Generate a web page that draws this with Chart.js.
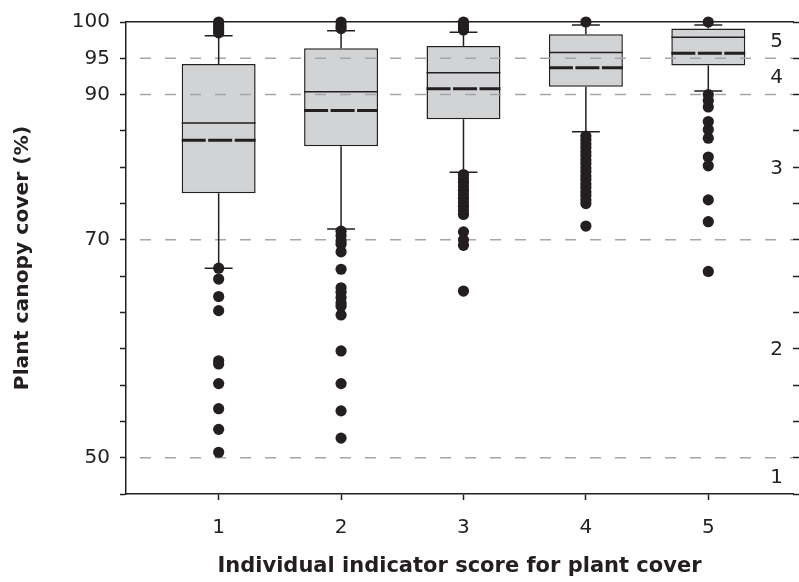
<!DOCTYPE html>
<html>
<head>
<meta charset="utf-8">
<script src="https://cdn.jsdelivr.net/npm/chart.js@4/dist/chart.umd.min.js"></script>
<style>
  html, body { margin: 0; padding: 0; background: #ffffff; }
  #wrap { width: 799px; height: 582px; }
</style>
</head>
<body>
<div id="wrap"><canvas id="chart" width="799" height="582"></canvas></div>
<script>
// Individual indicator score for plant cover (x categories)
const scores = ['1', '2', '3', '4', '5'];

// Box statistics of plant canopy cover (%) for each score
const whiskerLow  = [67.4, 71.5, 79.3, 84.9, 90.5];
const quartile1   = [76.4, 82.9, 86.6, 91.1, 94.0];
const medianCover = [86.1, 90.4, 93.0, 95.8, 97.9];
const meanCover   = [83.7, 87.8, 90.8, 93.7, 95.7];
const quartile3   = [94.2, 96.4, 96.7, 98.3, 99.1];
const whiskerHigh = [98.1, 98.8, 98.6, 99.6, 99.6];

// Outlying plots for each score
const outliers1 = [100, 99.6, 99.2, 98.8, 98.5, 67.4, 66.4, 64.8, 63.5, 58.9, 58.6, 56.8, 54.5, 52.6, 50.5];
const outliers2 = [100, 99.5, 99.1, 71.2, 70.6, 69.9, 69.6, 68.9, 67.3, 65.6, 65.2, 64.7, 64.2, 63.9, 63.1, 59.8, 56.8, 54.3, 51.8];
const outliers3 = [100, 99.6, 99.2, 98.9, 79.0, 78.4, 77.9, 77.3, 76.8, 76.2, 75.7, 75.1, 74.6, 74.0, 73.5, 71.1, 70.0, 69.5, 65.3];
const outliers4 = [100, 84.3, 83.8, 83.2, 82.7, 82.1, 81.6, 81.0, 80.5, 79.9, 79.4, 78.8, 78.3, 77.7, 77.2, 76.6, 76.1, 75.5, 75.0, 71.9];
const outliers5 = [100, 90.0, 89.2, 88.3, 86.3, 85.2, 84.0, 81.4, 80.2, 75.5, 72.5, 67.1];

// Cover limits between score classes, and labelled cover values on the left axis
const classLimits = [50, 70, 90, 95];
const coverTickLabels = [50, 70, 90, 95, 100];

// ---- y axis spacing: one step = 5 % above 70 %, 20/6 % below 70 % ----
const STEP_HIGH = 5;
const STEP_LOW = 20 / 6;
const BREAK_COVER = 70;
const BREAK_STEP = (100 - BREAK_COVER) / STEP_HIGH;   // 6
const AXIS_STEPS = 13;                                 // bottom of the axis
function toAxis(v) {
  return v >= BREAK_COVER ? (100 - v) / STEP_HIGH : BREAK_STEP + (BREAK_COVER - v) / STEP_LOW;
}
function fromAxis(t) {
  return t <= BREAK_STEP ? 100 - t * STEP_HIGH : BREAK_COVER - (t - BREAK_STEP) * STEP_LOW;
}
const axisSteps = Array.from({ length: AXIS_STEPS + 1 }, (_, i) => i);

// ---- x axis range and box geometry (in score units) ----
const X_MIN = 0.243;
const X_MAX = 5.692;
const BOX_HALF = 0.302;
const CAP_HALF = 0.114;

const INK = '#231f20';
const FONT = 'DejaVu Sans';
Chart.defaults.font.family = FONT;
Chart.defaults.color = INK;

const gap = x => ({ x: x, y: null });

// boxes: floating bars from Q1 to Q3
const boxData = scores.map((s, i) => ({ x: i + 1, y: [toAxis(quartile1[i]), toAxis(quartile3[i])] }));

// whiskers and caps
const whiskerData = [];
scores.forEach((s, i) => {
  const x = i + 1;
  const hi = toAxis(whiskerHigh[i]), lo = toAxis(whiskerLow[i]);
  whiskerData.push({ x, y: toAxis(quartile3[i]) }, { x, y: hi }, gap(x));
  whiskerData.push({ x: x - CAP_HALF, y: hi }, { x: x + CAP_HALF, y: hi }, gap(x));
  whiskerData.push({ x, y: toAxis(quartile1[i]) }, { x, y: lo }, gap(x));
  whiskerData.push({ x: x - CAP_HALF, y: lo }, { x: x + CAP_HALF, y: lo }, gap(x));
});

const acrossBox = arr => {
  const out = [];
  scores.forEach((s, i) => {
    const x = i + 1, y = toAxis(arr[i]);
    out.push({ x: x - BOX_HALF, y }, { x: x + BOX_HALF, y }, gap(x));
  });
  return out;
};

const limitData = [];
classLimits.forEach(v => {
  limitData.push({ x: X_MIN, y: toAxis(v) }, { x: X_MAX, y: toAxis(v) }, gap(X_MAX));
});

const outlierData = [];
[outliers1, outliers2, outliers3, outliers4, outliers5].forEach((arr, i) => {
  arr.forEach(v => outlierData.push({ x: i + 1, y: toAxis(v) }));
});

// score class labels, centred in each class band on the right
const scoreZoneLabels = {
  id: 'scoreZoneLabels',
  afterDraw(chart) {
    const ys = chart.scales.y;
    const area = chart.chartArea;
    const ctx = chart.ctx;
    const edges = [fromAxis(AXIS_STEPS)].concat(classLimits, [100]);
    ctx.save();
    ctx.font = '20px "' + FONT + '"';
    ctx.fillStyle = INK;
    ctx.textAlign = 'right';
    ctx.textBaseline = 'middle';
    scores.forEach((s, i) => {
      const mid = (toAxis(edges[i]) + toAxis(edges[i + 1])) / 2;
      ctx.fillText(s, area.right - 10, ys.getPixelForValue(mid) + 1.5);
    });
    ctx.restore();
  }
};

const tickFont = { family: FONT, size: 20 };

new Chart(document.getElementById('chart'), {
  type: 'bar',
  data: {
    datasets: [
      {
        type: 'bar', data: boxData, order: 4,
        backgroundColor: '#d1d3d4', borderColor: INK, borderWidth: 1.5, borderSkipped: false,
        categoryPercentage: 1, barPercentage: 2 * BOX_HALF
      },
      {
        type: 'line', data: limitData, order: 3, spanGaps: false,
        borderColor: '#a3a5a8', borderWidth: 1.5, borderDash: [11, 14], borderDashOffset: 11,
        pointRadius: 0, fill: false
      },
      {
        type: 'line', data: whiskerData, order: 2, spanGaps: false,
        borderColor: INK, borderWidth: 1.5, pointRadius: 0, fill: false
      },
      {
        type: 'line', data: acrossBox(medianCover), order: 1, spanGaps: false,
        borderColor: INK, borderWidth: 1.5, pointRadius: 0, fill: false
      },
      {
        type: 'line', data: acrossBox(meanCover), order: 1, spanGaps: false,
        borderColor: INK, borderWidth: 3, borderDash: [24, 2.5], pointRadius: 0, fill: false
      },
      {
        type: 'scatter', data: outlierData, order: 0, clip: false,
        pointRadius: 5.6, pointBackgroundColor: INK, pointBorderWidth: 0, pointHoverRadius: 5.6
      }
    ]
  },
  options: {
    responsive: false,
    animation: false,
    layout: { padding: { top: 22, left: 0, right: 0, bottom: 0 }, autoPadding: false },
    plugins: { legend: { display: false }, tooltip: { enabled: false } },
    scales: {
      x: {
        type: 'linear', position: 'bottom', min: X_MIN, max: X_MAX, offset: false,
        afterBuildTicks: s => { s.ticks = scores.map((_, i) => ({ value: i + 1 })); },
        ticks: {
          callback: v => scores[Math.round(v) - 1] || '',
          font: tickFont, color: INK, padding: 16, autoSkip: false, maxRotation: 0
        },
        grid: { display: true, offset: false, drawOnChartArea: false, drawTicks: true, tickLength: 6, tickColor: INK, tickWidth: 1.5 },
        border: { display: true, color: INK, width: 1.5 },
        title: { display: true, text: 'Individual indicator score for plant cover', font: { family: FONT, size: 21, weight: 'bold' }, color: INK, padding: { top: 0, bottom: 3 } },
        afterFit: s => { s.height = 88; }
      },
      xTop: {
        type: 'linear', position: 'top', min: X_MIN, max: X_MAX, offset: false,
        ticks: { display: false },
        grid: { display: false, drawTicks: false, drawOnChartArea: false },
        border: { display: true, color: INK, width: 1.5 },
        afterFit: s => { s.height = 0; }
      },
      y: {
        type: 'linear', position: 'left', min: 0, max: AXIS_STEPS, reverse: true,
        afterBuildTicks: s => { s.ticks = axisSteps.map(t => ({ value: t })); },
        ticks: {
          callback: v => {
            const c = fromAxis(v);
            const m = coverTickLabels.find(l => Math.abs(l - c) < 0.01);
            return m === undefined ? '' : String(m);
          },
          font: tickFont, color: INK, padding: 10, autoSkip: false
        },
        grid: { display: true, drawOnChartArea: false, drawTicks: true, tickLength: 6, tickColor: INK, tickWidth: 1.5 },
        border: { display: true, color: INK, width: 1.5 },
        title: { display: true, text: 'Plant canopy cover (%)', font: { family: FONT, size: 20.3, weight: 'bold' }, color: INK, padding: { top: 11, bottom: 0 } },
        afterFit: s => { s.width = 126; }
      },
      yRight: {
        type: 'linear', position: 'right', min: 0, max: AXIS_STEPS, reverse: true,
        afterBuildTicks: s => { s.ticks = axisSteps.map(t => ({ value: t })); },
        ticks: { display: false },
        grid: { display: true, drawOnChartArea: false, drawTicks: true, tickLength: 6, tickColor: INK, tickWidth: 1.5 },
        border: { display: false },
        afterFit: s => { s.width = 6; }
      }
    }
  },
  plugins: [scoreZoneLabels]
});
</script>
</body>
</html>
